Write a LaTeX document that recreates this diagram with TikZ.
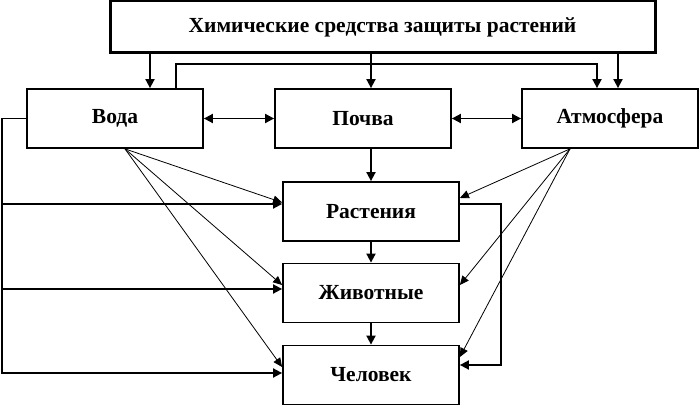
\documentclass[tikz,border=0pt]{standalone}
\usepackage{fontspec}
\setmainfont{Liberation Serif}
\usetikzlibrary{arrows.meta}
\tikzset{
    box/.style={draw, line width=1.8pt, minimum width=176pt, minimum height=59pt, font=\bfseries\fontsize{21.5}{24}\selectfont},
    arr/.style={line width=1.8pt, -{Triangle[length=9pt,width=9pt]}},
    darr/.style={line width=1.8pt, {Triangle[length=9pt,width=9pt]}-{Triangle[length=9pt,width=9pt]}},
    tarr/.style={line width=0.8pt, -{Triangle[length=9pt,width=8pt]}}
}
\begin{document}
\begin{tikzpicture}[x=1pt,y=-1pt]
                \useasboundingbox (0,0) rectangle (699,406);
                \node [box, line width=3pt, minimum width=545pt, minimum height=52pt] (sredstva) at (382.5,27) {Химические средства защиты растений};
                \node [box] (voda) at (115,118.5) {Вода};
                \node [box] (pochva) at (363,118.5) {Почва};
                \node [box] (atm) at (610,118.5) {Атмосфера};
                \node [box] (rast) at (371,211.5) {Растения};
                \node [box] (zhiv) at (371,293) {Животные};
                \node [box] (chel) at (371,375) {Человек};
                \coordinate (bus) at (2,118.5);
                \coordinate (vniz) at ([xshift=10pt]voda.south);
                \coordinate (aniz) at ([xshift=-40pt]atm.south);
                \draw [arr] ([xshift=35pt]voda.north |- sredstva.south) -- ([xshift=35pt]voda.north);
                \draw [arr] (rast.north |- sredstva.south) -- (rast.north |- pochva.north);
                \draw [arr] ([xshift=8pt]atm.north |- sredstva.south) -- ([xshift=8pt]atm.north);
                \draw [arr] ([xshift=61pt]voda.north) -- ++(0,-24) -| ([xshift=-13pt]atm.north);
                \draw [darr] (voda.east) -- (pochva.west);
                \draw [darr] (pochva.east) -- (atm.west);
                \draw [arr] (rast.north |- pochva.south) -- (rast.north);
                \draw [arr] (rast) -- (zhiv);
                \draw [arr] (zhiv) -- (chel);
                \draw [arr] (voda.west) -- (bus) |- ([yshift=2pt]chel.west);
                \draw [arr] ([yshift=7.5pt]rast.west -| bus) -- ([yshift=7.5pt]rast.west);
                \draw [arr] ([yshift=4pt]zhiv.west -| bus) -- ([yshift=4pt]zhiv.west);
                \draw [tarr] (vniz) -- ([yshift=9pt]rast.west);
                \draw [tarr] (vniz) -- ([yshift=8pt]zhiv.west);
                \draw [tarr] (vniz) -- ([yshift=8pt]chel.west);
                \draw [tarr] (aniz) -- ([yshift=13.5pt]rast.east);
                \draw [tarr] (aniz) -- ([yshift=8pt]zhiv.east);
                \draw [tarr] (aniz) -- ([yshift=18pt]chel.east);
                \draw [arr] ([yshift=7.5pt]rast.east) -- ++(41,0) |- ([yshift=10pt]chel.east);
            \end{tikzpicture}
\end{document}
